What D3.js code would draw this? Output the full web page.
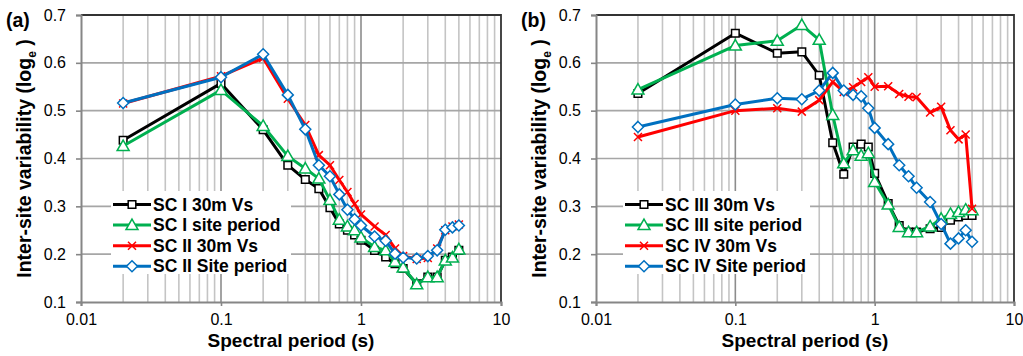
<!DOCTYPE html>
<html>
<head>
<meta charset="utf-8">
<script src="https://cdn.jsdelivr.net/npm/d3@7"></script>
<style>
  body { margin: 0; background: #fff; }
  svg { display: block; font-family: "Liberation Sans", Arial, sans-serif; }
</style>
</head>
<body>
<script>
// spectral periods (s), shared by every series
const periods = [0.02, 0.1, 0.2, 0.3, 0.4, 0.5, 0.6, 0.7, 0.8, 0.9, 1.0, 1.25, 1.5, 1.75, 2.0, 2.5, 3.0, 3.5, 4.0, 4.5, 5.0];

// panel (a)
const scI30 = [0.438, 0.557, 0.460, 0.386, 0.356, 0.337, 0.297, 0.263, 0.250, 0.240, 0.229, 0.208, 0.194, 0.180, 0.170, 0.138, 0.152, 0.152, 0.187, 0.194, 0.208];
const scISite = [0.426, 0.543, 0.468, 0.405, 0.379, 0.358, 0.313, 0.272, 0.258, 0.250, 0.235, 0.215, 0.208, 0.184, 0.172, 0.137, 0.152, 0.152, 0.187, 0.193, 0.210];
const scII30 = [0.515, 0.572, 0.610, 0.525, 0.470, 0.407, 0.386, 0.355, 0.330, 0.305, 0.283, 0.258, 0.240, 0.212, 0.196, 0.190, 0.192, 0.212, 0.250, 0.258, 0.262];
const scIISite = [0.516, 0.570, 0.618, 0.533, 0.461, 0.386, 0.363, 0.325, 0.293, 0.273, 0.260, 0.237, 0.228, 0.201, 0.193, 0.191, 0.196, 0.208, 0.251, 0.256, 0.260];

// panel (b)
const scIII30 = [0.536, 0.662, 0.620, 0.623, 0.574, 0.433, 0.367, 0.424, 0.430, 0.424, 0.369, 0.306, 0.260, 0.246, 0.246, 0.253, 0.256, 0.271, 0.278, 0.281, 0.281];
const scIIISite = [0.544, 0.636, 0.646, 0.679, 0.648, 0.491, 0.390, 0.417, 0.406, 0.411, 0.351, 0.304, 0.257, 0.246, 0.246, 0.258, 0.274, 0.284, 0.288, 0.293, 0.292];
const scIV30 = [0.445, 0.500, 0.505, 0.498, 0.522, 0.560, 0.539, 0.549, 0.560, 0.570, 0.550, 0.551, 0.535, 0.529, 0.528, 0.496, 0.508, 0.459, 0.440, 0.450, 0.295];
const scIVSite = [0.466, 0.513, 0.526, 0.524, 0.542, 0.579, 0.542, 0.533, 0.530, 0.505, 0.464, 0.430, 0.386, 0.363, 0.339, 0.309, 0.263, 0.222, 0.233, 0.250, 0.226];

const legendA = ['SC I 30m Vs', 'SC I site period', 'SC II 30m Vs', 'SC II Site period'];
const legendB = ['SC III 30m Vs', 'SC III site period', 'SC IV 30m Vs', 'SC IV Site period'];

const xTicks = [0.01, 0.1, 1, 10];
const yTicks = [0.1, 0.2, 0.3, 0.4, 0.5, 0.6, 0.7];

const width = 1023, height = 356;
const plotTop = 15, plotBottom = 302;

const styles = [
  { color: '#000000', marker: 'square' },
  { color: '#00b050', marker: 'triangle' },
  { color: '#ff0000', marker: 'cross' },
  { color: '#0070c0', marker: 'diamond' }
];

const svg = d3.select('body').append('svg')
  .attr('width', width)
  .attr('height', height);

function markerPath(type) {
  if (type === 'square') return 'M-3.8,-3.8H3.8V3.8H-3.8Z';
  if (type === 'triangle') return 'M0,-6L6,4.5H-6Z';
  if (type === 'diamond') return 'M0,-5.5L5.5,0L0,5.5L-5.5,0Z';
  return 'M-4,-4L4,4M-4,4L4,-4';
}

function drawMarker(sel, type, color) {
  sel.append('path')
    .attr('d', markerPath(type))
    .attr('fill', type === 'cross' ? 'none' : '#fff')
    .attr('stroke', color)
    .attr('stroke-width', 1.5);
}

function drawPanel(cfg) {
  const x = d3.scaleLog().domain([0.01, 10]).range([cfg.left, cfg.right]);
  const y = d3.scaleLinear().domain([0.1, 0.7]).range([plotBottom, plotTop]);
  const g = svg.append('g');

  // minor vertical grid
  const minors = [];
  [0.01, 0.1, 1].forEach(d => { for (let k = 2; k <= 9; k++) minors.push(d * k); });
  g.append('g').selectAll('line').data(minors).join('line')
    .attr('x1', d => x(d)).attr('x2', d => x(d))
    .attr('y1', plotTop).attr('y2', plotBottom)
    .attr('stroke', '#c4c4c4').attr('stroke-width', 1.6);

  // horizontal grid
  g.append('g').selectAll('line').data(yTicks.slice(1, -1)).join('line')
    .attr('x1', cfg.left).attr('x2', cfg.right)
    .attr('y1', d => y(d)).attr('y2', d => y(d))
    .attr('stroke', '#a6a6a6').attr('stroke-width', 1.6);

  // decade lines
  g.append('g').selectAll('line').data([0.1, 1]).join('line')
    .attr('x1', d => x(d)).attr('x2', d => x(d))
    .attr('y1', plotTop).attr('y2', plotBottom)
    .attr('stroke', '#8c8c8c').attr('stroke-width', 1.6);

  // plot frame: dark top/right, grey axes
  g.append('path')
    .attr('d', `M${cfg.left},${plotTop}H${cfg.right}V${plotBottom}`)
    .attr('fill', 'none').attr('stroke', '#333').attr('stroke-width', 1.8);

  const yAxis = d3.axisLeft(y).tickValues(yTicks).tickSize(5).tickPadding(10).tickFormat(d3.format('.1f'));
  const xAxis = d3.axisBottom(x).tickValues(xTicks).tickSize(4).tickPadding(6).tickFormat(d => String(d));

  const ya = g.append('g').attr('transform', `translate(${cfg.left},0)`).call(yAxis);
  const xa = g.append('g').attr('transform', `translate(0,${plotBottom})`).call(xAxis);
  [ya, xa].forEach(a => {
    a.select('.domain').attr('stroke', '#868686').attr('stroke-width', 2);
    a.selectAll('.tick line').attr('stroke', '#868686').attr('stroke-width', 1.6);
    a.selectAll('.tick text').attr('fill', '#000').style('font-size', '16px')
      .style('font-family', '"Liberation Sans", Arial, sans-serif');
  });
  xa.selectAll('.tick text').attr('dy', '0.8em');

  // series
  const line = d3.line().x(d => x(d[0])).y(d => y(d[1]));
  cfg.series.forEach((vals, i) => {
    const st = styles[i];
    const pts = periods.map((p, j) => [p, vals[j]]);
    const s = g.append('g');
    s.append('path').datum(pts)
      .attr('d', line)
      .attr('fill', 'none')
      .attr('stroke', st.color)
      .attr('stroke-width', 3)
      .attr('stroke-linejoin', 'round');
    s.selectAll('g.m').data(pts).join('g')
      .attr('class', 'm')
      .attr('transform', d => `translate(${x(d[0])},${y(d[1])})`)
      .each(function () { drawMarker(d3.select(this), st.marker, st.color); });
  });

  // legend
  const lg = g.append('g').attr('transform', `translate(${cfg.legendX},0)`);
  lg.append('rect')
    .attr('x', -2).attr('y', 191)
    .attr('width', cfg.legendW).attr('height', 83)
    .attr('fill', '#fff');
  cfg.labels.forEach((label, i) => {
    const ly = 204.5 + i * 20.6;
    const row = lg.append('g');
    row.append('line')
      .attr('x1', 0).attr('x2', 38)
      .attr('y1', ly).attr('y2', ly)
      .attr('stroke', styles[i].color).attr('stroke-width', 3);
    const m = row.append('g').attr('transform', `translate(19,${ly})`);
    drawMarker(m, styles[i].marker, styles[i].color);
    row.append('text')
      .attr('x', 40).attr('y', ly + 6)
      .style('font-size', '17.5px').style('font-weight', 'bold')
      .text(label);
  });

  // panel tag
  g.append('text')
    .attr('x', cfg.tagX).attr('y', 27)
    .style('font-size', '19.5px').style('font-weight', 'bold')
    .text(cfg.tag);

  // axis titles
  g.append('text')
    .attr('x', (cfg.left + cfg.right) / 2).attr('y', 347)
    .attr('text-anchor', 'middle')
    .style('font-size', '19px').style('font-weight', 'bold')
    .text('Spectral period (s)');

  const yt = g.append('text')
    .attr('transform', `translate(${cfg.titleX},${(plotTop + plotBottom) / 2}) rotate(-90)`)
    .attr('text-anchor', 'middle')
    .style('font-size', '19.5px').style('font-weight', 'bold');
  yt.append('tspan').text('Inter-site variability (log');
  yt.append('tspan').attr('dy', 5).style('font-size', '12px').text('e');
  yt.append('tspan').attr('dy', -5).text(' )');
}

drawPanel({
  left: 81, right: 501, tag: '(a)', tagX: 6, titleX: 31,
  series: [scI30, scISite, scII30, scIISite],
  labels: legendA, legendX: 113, legendW: 180
});

drawPanel({
  left: 596, right: 1014, tag: '(b)', tagX: 521, titleX: 546,
  series: [scIII30, scIIISite, scIV30, scIVSite],
  labels: legendB, legendX: 625, legendW: 187
});
</script>
</body>
</html>
